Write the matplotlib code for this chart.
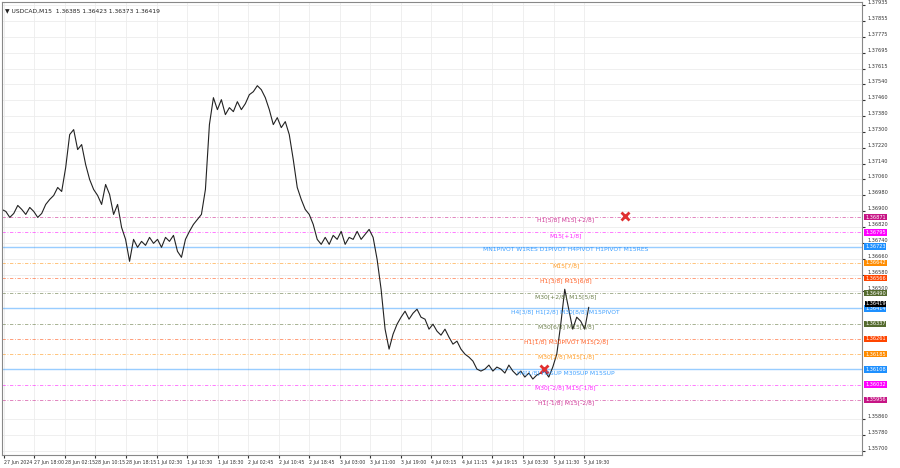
import numpy as np
import matplotlib
matplotlib.use("Agg")
import matplotlib.pyplot as plt

# USDCAD M15 closes, sampled roughly every 4 bars
closes = [1.36910, 1.36900, 1.36870, 1.36890, 1.36930, 1.36910, 1.36885, 1.36920, 1.36900, 1.36870,
          1.36890, 1.36935, 1.36960, 1.36980, 1.37020, 1.37000, 1.37120, 1.37285, 1.37310, 1.37210,
          1.37235, 1.37135, 1.37060, 1.37010, 1.36980, 1.36935, 1.37035, 1.36985, 1.36885, 1.36935,
          1.36820, 1.36760, 1.36650, 1.36760, 1.36720, 1.36750, 1.36730, 1.36770, 1.36740, 1.36760,
          1.36720, 1.36770, 1.36750, 1.36780, 1.36700, 1.36670, 1.36760, 1.36800, 1.36835, 1.36860,
          1.36885, 1.37010, 1.37335, 1.37470, 1.37410, 1.37460, 1.37385, 1.37420, 1.37400, 1.37450,
          1.37410, 1.37440, 1.37485, 1.37500, 1.37530, 1.37510, 1.37470, 1.37410, 1.37335, 1.37370,
          1.37320, 1.37350, 1.37285, 1.37160, 1.37020, 1.36960, 1.36910, 1.36885, 1.36835, 1.36760,
          1.36735, 1.36770, 1.36735, 1.36780, 1.36760, 1.36800, 1.36735, 1.36770, 1.36760, 1.36800,
          1.36760, 1.36785, 1.36810, 1.36770, 1.36660, 1.36510, 1.36310, 1.36210, 1.36285, 1.36335,
          1.36370, 1.36400, 1.36360, 1.36390, 1.36410, 1.36370, 1.36360, 1.36310, 1.36335, 1.36300,
          1.36280, 1.36310, 1.36270, 1.36235, 1.36250, 1.36210, 1.36185, 1.36170, 1.36150, 1.36110,
          1.36100, 1.36110, 1.36130, 1.36100, 1.36120, 1.36110, 1.36090, 1.36130, 1.36100, 1.36080,
          1.36100, 1.36070, 1.36090, 1.36060, 1.36080, 1.36090, 1.36100, 1.36070, 1.36120, 1.36185,
          1.36335, 1.36510, 1.36410, 1.36310, 1.36370, 1.36350, 1.36310, 1.36419]

time_labels = ["27 Jun 2024", "27 Jun 18:00", "28 Jun 02:15", "28 Jun 10:15", "28 Jun 18:15",
               "1 Jul 02:30", "1 Jul 10:30", "1 Jul 18:30", "2 Jul 02:45", "2 Jul 10:45",
               "2 Jul 18:45", "3 Jul 03:00", "3 Jul 11:00", "3 Jul 19:00", "4 Jul 03:15",
               "4 Jul 11:15", "4 Jul 19:15", "5 Jul 03:30", "5 Jul 11:30", "5 Jul 19:30"]

price_ticks = [1.37935, 1.37855, 1.37775, 1.37695, 1.37615, 1.37540, 1.37460, 1.37380, 1.37300,
               1.37220, 1.37140, 1.37060, 1.36980, 1.36900, 1.36820, 1.36740, 1.36660, 1.36580,
               1.36500, 1.35860, 1.35780, 1.35700]

level_prices = [1.36871, 1.36795, 1.36723, 1.36642, 1.36566, 1.36490, 1.36414,
                1.36337, 1.36261, 1.36185, 1.36108, 1.36032, 1.35956]
level_names = ["H1[5/8] M15[+2/8]", "M15[+1/8]",
               "MN1PIVOT W1RES D1PIVOT H4PIVOT H1PIVOT M15RES", "M15[7/8]",
               "H1[3/8] M15[6/8]", "M30[+2/8] M15[5/8]", "H4[3/8] H1[2/8] M30[8/8] M15PIVOT",
               "M30[6/8] M15[3/8]", "H1[1/8] M30PIVOT M15[2/8]", "M30[2/8] M15[1/8]",
               "H4[1/8] H1SUP M30SUP M15SUP", "M30[-2/8] M15[-1/8]", "H1[-1/8] M15[-2/8]"]
level_colors = ["#c71585", "#ff00ff", "#1e90ff", "#ff8c00", "#ff4500", "#556b2f", "#1e90ff",
                "#556b2f", "#ff4500", "#ff8c00", "#1e90ff", "#ff00ff", "#c71585"]

fig = plt.figure(figsize=(9, 4.68), dpi=100)
ax = fig.add_axes([0.002, 0.028, 0.956, 0.968])

step = 4
x = np.arange(len(closes)) * step
x_max = 862
ax.set_xlim(0, x_max)
ax.set_ylim(1.35680, 1.37950)

ax.set_xticks([2 + 30.6 * i for i in range(len(time_labels))])
ax.set_xticklabels(time_labels, fontsize=3.4, ha="left")
ax.set_yticks(price_ticks)
ax.yaxis.tick_right()
ax.set_yticklabels([f"{p:.5f}" for p in price_ticks], fontsize=3.6, va="bottom")
ax.tick_params(length=2, pad=2, colors="#333333")
ax.grid(True, color="#ececec", linewidth=0.6)
for s in ax.spines.values():
    s.set_color("#888888")
    s.set_linewidth(0.8)

for p, name, c in zip(level_prices, level_names, level_colors):
    solid = c == "#1e90ff"
    ax.axhline(p, color=c, alpha=0.45 if solid else 0.6,
               linewidth=1.0 if solid else 0.6, linestyle="-" if solid else (0, (4, 2, 1, 2)))
    ax.text(565, p - 0.00003, name, color=c, fontsize=4.3, ha="center", va="top", alpha=0.85)
    ax.text(x_max + 3, p, f"{p:.5f}", color="white", fontsize=3.6, va="center", ha="left",
            clip_on=False, bbox=dict(boxstyle="square,pad=0.15", fc=c, ec="none"))

ax.plot(x, closes, color="#222222", linewidth=0.8)
ax.text(x_max + 3, closes[-1] + 0.00006, f"{closes[-1]:.5f}", color="white", fontsize=3.6,
        va="bottom", ha="left", clip_on=False,
        bbox=dict(boxstyle="square,pad=0.1", fc="black", ec="none"))

ax.plot([624, 543], [1.36875, 1.36110], linestyle="none", marker="x", color="#e03030",
        markersize=6, markeredgewidth=2)

ax.text(0.004, 0.985, "\u25bc USDCAD,M15  1.36385 1.36423 1.36373 1.36419", transform=ax.transAxes,
        fontsize=4.3, va="top", ha="left", color="#222222")

fig.savefig("out.png", dpi=100)
